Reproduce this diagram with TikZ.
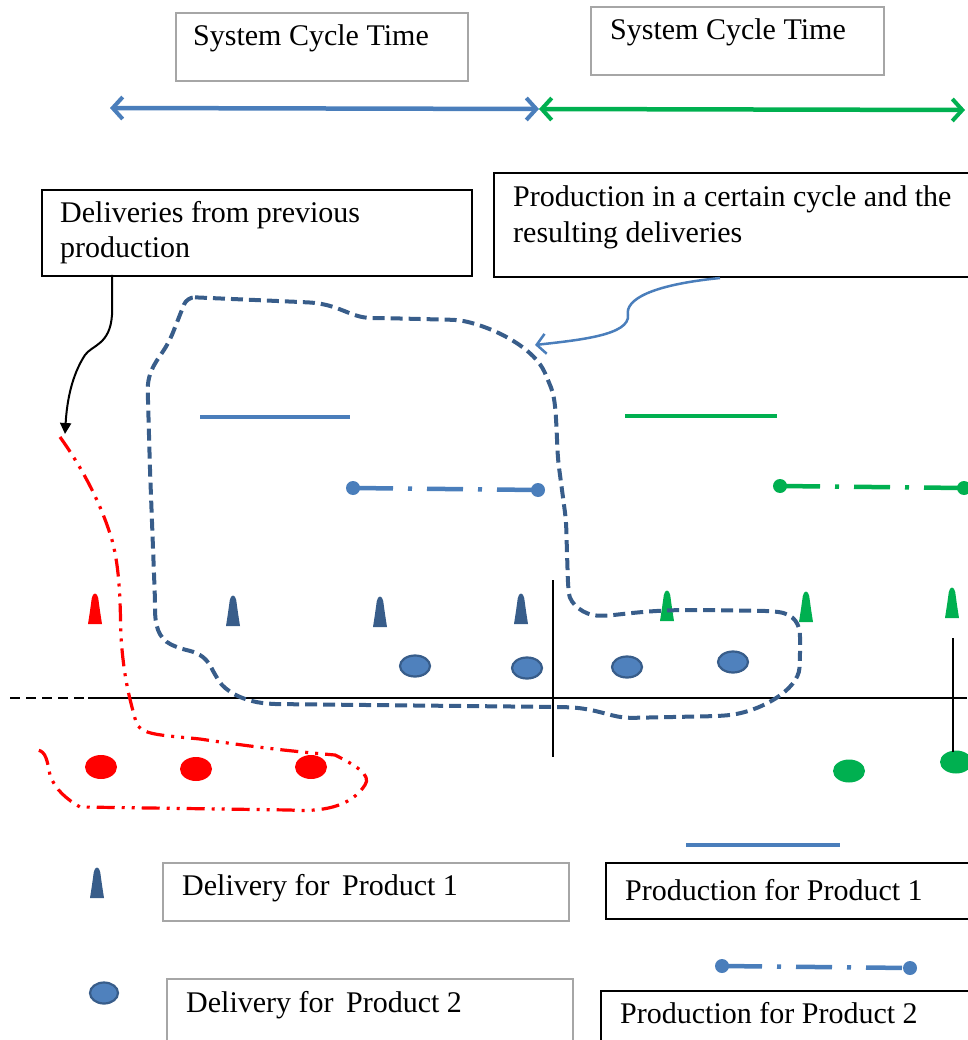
\documentclass[tikz,border=0pt]{standalone}
\usepackage{fontspec}
\setmainfont{Liberation Serif}
\usetikzlibrary{arrows.meta,shapes.geometric}
\definecolor{pblue}{HTML}{4A7EBB}
\definecolor{dblue}{HTML}{385D8A}
\definecolor{fblue}{HTML}{4F81BD}
\definecolor{pgreen}{HTML}{00B050}
\definecolor{pred}{HTML}{FF0000}
\definecolor{gbox}{HTML}{A6A6A6}
\tikzset{
  gbox/.style={draw=gbox,line width=1.6pt,minimum width=#1,anchor=north west,inner sep=0pt},
  bbox/.style={draw=black,line width=2pt,anchor=north west,inner sep=0pt},
  txt/.style={anchor=base west,inner sep=0pt,font=\fontsize{30}{36}\selectfont},
  dotb/.style={ellipse,draw=dblue,fill=fblue,line width=2.2pt,minimum width=30pt,minimum height=21pt,inner sep=0pt},
  dotr/.style={ellipse,fill=pred,minimum width=32pt,minimum height=24pt,inner sep=0pt},
  dotg/.style={ellipse,fill=pgreen,minimum width=32pt,minimum height=23pt,inner sep=0pt},
  cyclearrow/.style={line width=4.5pt,{Straight Barb[length=10pt,width=22pt,line width=4pt]}-{Straight Barb[length=10pt,width=22pt,line width=4pt]}},
  prodline/.style={line width=4.5pt},
  dashdotline/.style={line width=4.5pt,dash pattern=on 36pt off 15pt on 4pt off 15pt,dash phase=-4pt},
  enddot/.style={circle,inner sep=0pt,minimum size=14pt},
  pics/cone/.style={code={
    \fill[#1] (-7,15) -- (-5,2) -- (-3.2,-11) .. controls (-2,-17) and (2,-17) .. (3.2,-11) -- (5,2) -- (7,15) -- cycle;
  }}
}
\begin{document}
\begin{tikzpicture}[x=1pt,y=-1pt]
\useasboundingbox (0,0) rectangle (967,1040);

% top boxes
\node[gbox=292pt,minimum height=68pt] (sct1) at (175,12) {};
\node[txt] (sct1t) at (193,46) {System Cycle Time};
\node[gbox=293pt,minimum height=68pt] (sct2) at (590,6) {};
\node[txt] (sct2t) at (610,40) {System Cycle Time};

% cycle arrows
\coordinate (a0) at (110,108);
\coordinate (a1) at (539,109);
\coordinate (a2) at (965,110);
\draw[cyclearrow,draw=pblue] (a0) -- (a1);
\draw[cyclearrow,draw=pgreen] (a1) -- (a2);

% callout boxes
\node[bbox,minimum width=430pt,minimum height=86pt] (prev) at (41,189) {};
\node[txt] (prevt1) at (60,223) {Deliveries from previous};
\node[txt] (prevt2) at (60,258) {production};
\node[bbox,minimum width=490pt,minimum height=104pt] (cyc) at (493,172) {};
\node[txt] (cyct1) at (513,207) {Production in a certain cycle and the};
\node[txt] (cyct2) at (513,243) {resulting deliveries};

% callout arrows
\coordinate (prevstart) at (112,275);
\coordinate (prevend) at (65,434);
\draw[line width=2pt,-{Triangle[length=11pt,width=11pt]}] (prevstart) -- (112,315) .. controls (110,345) and (92,345) .. (85,355) .. controls (72,375) and (67,400) .. (prevend);
\coordinate (cycstart) at (720,278);
\coordinate (cycend) at (535,345);
\draw[pblue,line width=2.5pt,-{Straight Barb[length=9pt,width=20pt,line width=2.5pt]}] (cycstart) .. controls (650,285) and (625,300) .. (628,315) .. controls (630,335) and (580,340) .. (cycend);

% production lines
\draw[prodline,pblue] (200,417) -- (350,417);
\draw[prodline,pgreen] (625,416) -- (777,416);
\node[enddot,fill=pblue] (bd1) at (353,488) {};
\node[enddot,fill=pblue] (bd2) at (538,490) {};
\draw[dashdotline,pblue] (bd1.center) -- (bd2.center);
\node[enddot,fill=pgreen] (gd1) at (780,486) {};
\node[enddot,fill=pgreen] (gd2) at (964,488) {};
\draw[dashdotline,pgreen] (gd1.center) -- (gd2.center);

% axis
\coordinate (ax0) at (10,698);
\coordinate (ax1) at (88,698);
\coordinate (ax2) at (967,698);
\draw[line width=2pt,dash pattern=on 10pt off 6pt] (ax0) -- (ax1);
\draw[line width=2pt] (ax1) -- (ax2);
\coordinate (v1a) at (553,580);
\coordinate (v1b) at (553,757);
\draw[line width=2pt] (v1a) -- (v1b);

% cones
\pic at (95,609) {cone=pred};
\pic at (233,611) {cone=dblue};
\pic at (380,612) {cone=dblue};
\pic at (521,609) {cone=dblue};
\pic at (667,606) {cone=pgreen};
\pic at (806,607) {cone=pgreen};
\pic at (952,603) {cone=pgreen};

% deliveries
\node[dotb] (b1) at (415,666) {};
\node[dotb] (b2) at (527,668) {};
\node[dotb] (b3) at (627,667) {};
\node[dotb] (b4) at (733,662) {};
\node[dotr] (r1) at (101,767) {};
\node[dotr] (r2) at (196,769) {};
\node[dotr] (r3) at (311,767) {};
\node[dotg] (g1) at (849,771) {};
\node[dotg] (g2) at (956,762) {};
\coordinate (v2a) at (953,638);
\draw[line width=2pt] (v2a) -- (953,752);

% blue dashed region
\draw[dblue,line width=4pt,dash pattern=on 12pt off 6pt,rounded corners=8pt]
  (187,297) -- (300,302) .. controls (340,304) and (350,318) .. (380,318)
  -- (460,320) .. controls (500,330) and (535,350) .. (548,380)
  .. controls (556,400) and (556,420) .. (558,460)
  -- (566,520) -- (568,585) .. controls (570,605) and (585,615) .. (605,616)
  .. controls (640,612) and (660,610) .. (700,610) -- (770,611)
  .. controls (795,614) and (800,625) .. (800,645) -- (800,660)
  .. controls (798,690) and (760,712) .. (720,716) -- (625,718)
  .. controls (605,714) and (590,708) .. (560,707) -- (270,704)
  .. controls (240,700) and (225,690) .. (215,675)
  .. controls (205,655) and (195,652) .. (178,648)
  .. controls (158,638) and (155,625) .. (155,600)
  -- (150,470) -- (148,400) .. controls (147,370) and (158,360) .. (170,340)
  -- cycle;

% red dash-dot-dot region
\draw[pred,line width=3.2pt,dash pattern=on 18pt off 7pt on 3pt off 7pt on 3pt off 7pt]
  (60,437) .. controls (80,465) and (100,500) .. (112,540)
  .. controls (120,570) and (120,600) .. (121,637)
  .. controls (124,680) and (130,700) .. (136,722)
  .. controls (140,735) and (160,735) .. (200,739)
  .. controls (260,748) and (300,752) .. (335,755)
  .. controls (355,765) and (372,775) .. (365,785)
  .. controls (350,808) and (320,812) .. (290,810)
  -- (80,807) .. controls (68,800) and (55,790) .. (50,775)
  .. controls (47,760) and (46,752) .. (38,750);

% legend
\pic at (97,883) {cone=dblue};
\node[gbox=406pt,minimum height=58pt] (l1) at (162,862) {};
\node[txt] (l1t) at (182,895) {Delivery for\, Product 1};
\node[dotb,minimum width=28pt,minimum height=21pt] (lb) at (104,993) {};
\node[gbox=406pt,minimum height=64pt] (l2) at (166,978) {};
\node[txt] (l2t) at (186,1012) {Delivery for\, Product 2};
\draw[prodline,pblue] (686,845) -- (840,845);
\node[bbox,minimum width=370pt,minimum height=56pt] (l3) at (605,862) {};
\node[txt] (l3t) at (625,900) {Production for Product 1};
\node[enddot,fill=pblue] (ld1) at (722,966) {};
\node[enddot,fill=pblue] (ld2) at (910,968) {};
\draw[dashdotline,pblue] (ld1.center) -- (ld2.center);
\node[bbox,minimum width=375pt,minimum height=60pt] (l4) at (600,990) {};
\node[txt] (l4t) at (620,1023) {Production for Product 2};
\end{tikzpicture}
\end{document}
